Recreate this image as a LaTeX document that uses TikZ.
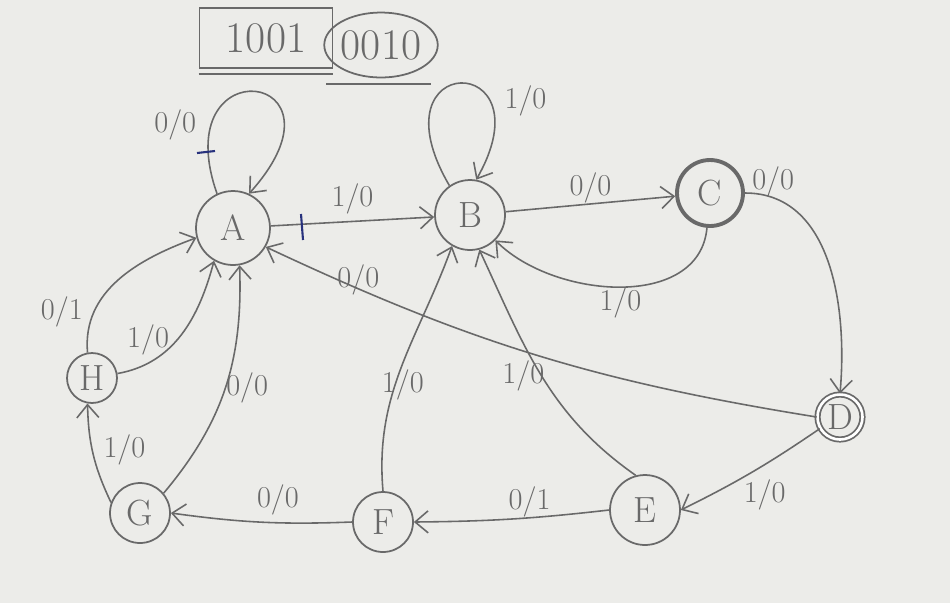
\documentclass[tikz,border=0pt]{standalone}
\usetikzlibrary{arrows.meta,shapes.geometric}
\definecolor{pencil}{RGB}{105,105,105}
\definecolor{paper}{RGB}{236,236,233}
\definecolor{ink}{RGB}{40,50,125}
\tikzset{
  main/.style = {draw=pencil, circle, line width=1pt, text=pencil, font=\huge, inner sep=0pt},
  tr/.style = {draw=pencil, line width=0.9pt, ->},
  lbl/.style = {text=pencil, font=\LARGE, inner sep=2pt}
}
\begin{document}
\begin{tikzpicture}[x=0.02cm, y=-0.02cm, >={Straight Barb[length=2.6mm,width=4.4mm]}]
\fill[paper] (0,0) rectangle (950,603);
\useasboundingbox (0,0) rectangle (950,603);

% sequence
\node[draw=pencil, line width=1pt, rectangle, minimum width=2.66cm, minimum height=1.2cm, text=pencil, font=\Huge] (seqa) at (266,38) {1001};
\node[draw=pencil, line width=1pt, ellipse, minimum width=2cm, minimum height=1.3cm, text=pencil, font=\Huge, inner sep=0pt] (seqb) at (381,45) {0010};
\draw[pencil, line width=1pt] ([yshift=-3pt]seqa.south west) -- ([yshift=-3pt]seqa.south east);
\draw[pencil, line width=1pt] ([xshift=-1.1cm,yshift=-3pt]seqb.south) -- ([xshift=1cm,yshift=-3pt]seqb.south);

% states
\node[main, minimum size=1.48cm] (A) at (233,228) {A};
\node[main, minimum size=1.40cm] (B) at (470,215) {B};
\node[main, minimum size=1.32cm, line width=2.2pt] (C) at (710,193) {C};
\node[main, minimum size=0.9cm, double, double distance=1.5pt] (D) at (840,417) {D};
\node[main, minimum size=1.40cm] (E) at (645,510) {E};
\node[main, minimum size=1.20cm] (F) at (383,522) {F};
\node[main, minimum size=1.20cm] (G) at (140,513) {G};
\node[main, minimum size=1.00cm] (H) at (92,378) {H};

% transitions
\draw[tr] (A.115) .. controls (165,45) and (360,70) .. node[lbl, pos=0.2, left=6pt] {0/0} (A.65);
\draw[tr] (B.125) .. controls (370,50) and (550,50) .. node[lbl, pos=0.72, right=6pt] {1/0} (B.80);
\draw[tr] (A) -- node[lbl, above=2pt] {1/0} (B);
\draw[tr] (B) -- node[lbl, above=-2pt] {0/0} (C);
\draw[tr] (C.265) to[out=-95, in=-45] node[lbl, below=-2pt] {1/0} (B.-45);
\draw[tr] (C.east) to[out=0, in=85] node[lbl, pos=0.12, above=-2pt] {0/0} (D.north);
\draw[tr] (D.west) to[bend left=8] node[lbl, pos=0.84, above=-6pt] {0/0} (A.-30);
\draw[tr] (D.-150) to[bend left=4] node[lbl, pos=0.4, below=6pt] {1/0} (E.east);
\draw[tr] (E.105) to[out=145, in=-65] node[lbl, pos=0.5, left=-4pt] {1/0} (B.-75);
\draw[tr] (E.west) to[bend left=3] node[lbl, pos=0.4, above=-2pt] {0/1} (F.east);
\draw[tr] (F.north) to[out=95, in=-110] node[lbl, pos=0.42, right=-10pt] {1/0} (B.240);
\draw[tr] (F.west) to[bend left=5] node[lbl, pos=0.4, above=2pt] {0/0} (G.east);
\draw[tr] (G.40) to[out=50, in=-88] node[lbl, pos=0.5, right=-2pt] {0/0} (A.-80);
\draw[tr] (G.160) to[bend left=12] node[lbl, pos=0.55, right=4pt] {1/0} (H.-100);
\draw[tr] (H.100) to[out=95, in=200] node[lbl, pos=0.25, left=4pt] {0/1} (A.195);
\draw[tr] (H.10) to[out=10, in=-105] node[lbl, pos=0.45, left=2pt] {1/0} (A.-120);

% marks
\draw[ink, line width=1.2pt] (197,153) -- (215,151);
\draw[ink, line width=1.2pt] (301,214) -- (303,240);
\end{tikzpicture}
\end{document}
